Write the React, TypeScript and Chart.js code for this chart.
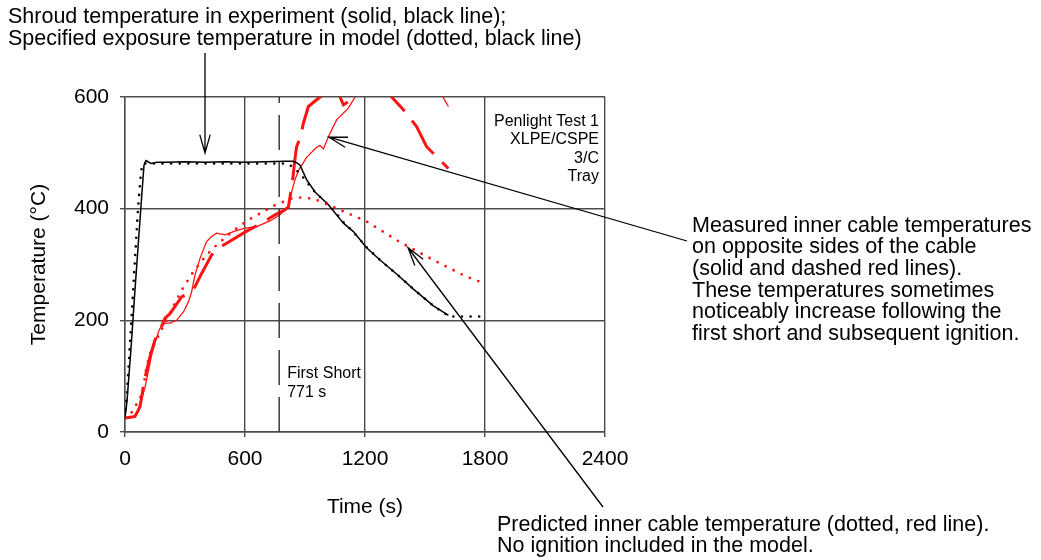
import React, { useEffect, useRef } from "react";
import { Chart, registerables } from "chart.js";

Chart.register(...registerables);

const FONT = '"Liberation Sans", Arial, Helvetica, sans-serif';

// ---- axis ticks ----
const xTicks = [0, 600, 1200, 1800, 2400];
const yTicks = [0, 200, 400, 600];

// ---- shroud temperature in experiment (solid black) ----
const shroudExpTime = [0, 10, 30, 50, 70, 85, 95, 105, 115, 130, 160, 200, 300, 400, 500, 600, 700, 800, 840, 860, 875, 908, 950, 1017, 1092, 1142, 1208, 1275, 1358, 1442, 1542, 1600, 1617];
const shroudExpTemp = [25, 55, 150, 255, 355, 430, 478, 486, 484, 481, 483, 483, 484, 483, 484, 483, 484, 485, 485, 482, 478, 452, 430, 407, 374, 359, 330, 308, 283, 256, 226, 213, 209];

// ---- specified exposure temperature in model (dotted black) ----
const shroudModelTime = [0, 10, 25, 45, 65, 80, 88, 100, 300, 500, 700, 810, 833, 875, 908, 942, 1000, 1042, 1092, 1142, 1208, 1275, 1358, 1442, 1542, 1600, 1620, 1800];
const shroudModelTemp = [25, 70, 160, 280, 400, 465, 481, 481, 481, 481, 481, 481, 476, 463, 448, 433, 412, 398, 376, 358, 331, 308, 283, 256, 226, 212, 207, 207];

// ---- predicted inner cable temperature (dotted red) ----
const predictedTime = [0, 25, 50, 75, 92, 108, 125, 150, 183, 225, 283, 342, 408, 450, 533, 617, 700, 742, 783, 830, 870, 942, 1042, 1208, 1375, 1542, 1708, 1800];
const predictedTemp = [25, 30, 45, 60, 81, 117, 140, 160, 183, 213, 254, 287, 317, 332, 358, 380, 396, 405, 411, 418, 420, 418, 403, 377, 340, 308, 278, 266];

// ---- measured inner cable temperature, side A (thin solid red) ----
const sideATime = [0, 40, 60, 80, 100, 120, 133, 150, 170, 185, 205, 225, 258, 292, 317, 333, 350, 375, 408, 433, 458, 500, 542, 600, 658, 725, 775, 817, 833, 850, 870, 908, 958, 975, 992, 1017, 1058, 1117, 1150, 1250, 1400, 1530, 1583, 1617];
const sideATemp = [24, 26, 35, 55, 80, 115, 138, 160, 182, 192, 195, 195, 200, 215, 233, 251, 281, 311, 341, 350, 356, 353, 359, 365, 368, 378, 389, 403, 430, 452, 470, 492, 510, 513, 507, 529, 559, 580, 600, 660, 700, 650, 604, 583];

// ---- measured inner cable temperature, side B (thick dashed red) ----
const sideBTime = [0, 50, 75, 92, 105, 125, 150, 183, 200, 225, 283, 300, 330, 350, 383, 433, 460, 508, 600, 683, 750, 800, 817, 825, 838, 850, 858, 875, 892, 917, 958, 992, 1030, 1060, 1075, 1092, 1117, 1150, 1250, 1300, 1333, 1392, 1458, 1508, 1617];
const sideBTemp = [25, 28, 45, 81, 105, 135, 165, 189, 204, 212, 242, 245, 250, 260, 284, 317, 328, 338, 358, 374, 389, 398, 403, 421, 451, 490, 511, 526, 553, 583, 595, 604, 630, 612, 600, 586, 592, 604, 660, 630, 600, 577, 547, 511, 472];

// ---- first short marker ----
const firstShortTime = 771;
const firstShortSpan = [0, 600];

// ---- texts ----
const topNote = [
  "Shroud temperature in experiment (solid, black line);",
  "Specified exposure temperature in model (dotted, black line)",
];
const rightNote = [
  "Measured inner cable temperatures",
  "on opposite sides of the cable",
  "(solid and dashed red lines).",
  "These temperatures sometimes",
  "noticeably increase following the",
  "first short and subsequent ignition.",
];
const bottomNote = [
  "Predicted inner cable temperature (dotted, red line).",
  "No ignition included in the model.",
];
const testLabel = ["Penlight Test 1", "XLPE/CSPE", "3/C", "Tray"];
const shortLabel = ["First Short", "771 s"];

// arrow targets (data coordinates the arrows point at)
const shroudArrowTarget = { x: 400, y: 500 };
const measuredArrowTarget = { x: 1020, y: 528 };
const predictedArrowTarget = { x: 1415, y: 330 };

const RED = "rgb(255,18,18)";
const GRID = "#4c4c4c";

function pts(t: number[], v: number[]) {
  return t.map((x, i) => ({ x, y: v[i] }));
}

function arrow(ctx: CanvasRenderingContext2D, x0: number, y0: number, x1: number, y1: number) {
  const ang = Math.atan2(y0 - y1, x0 - x1);
  const len = 19;
  const spread = (16 * Math.PI) / 180;
  ctx.beginPath();
  ctx.moveTo(x0, y0);
  ctx.lineTo(x1, y1);
  ctx.moveTo(x1 + len * Math.cos(ang - spread), y1 + len * Math.sin(ang - spread));
  ctx.lineTo(x1, y1);
  ctx.lineTo(x1 + len * Math.cos(ang + spread), y1 + len * Math.sin(ang + spread));
  ctx.stroke();
}

const annotations = {
  id: "annotations",
  afterDraw(chart: any) {
    const ctx: CanvasRenderingContext2D = chart.ctx;
    const sx = chart.scales.x;
    const sy = chart.scales.y;
    ctx.save();
    ctx.fillStyle = "#000";
    ctx.textBaseline = "alphabetic";
    ctx.textAlign = "left";
    ctx.font = `21.5px ${FONT}`;
    topNote.forEach((s, i) => ctx.fillText(s, 8, 23 + i * 21.5));
    rightNote.forEach((s, i) => ctx.fillText(s, 692, 231.5 + i * 21.7));
    bottomNote.forEach((s, i) => ctx.fillText(s, 497, 531 + i * 21));

    ctx.font = `16px ${FONT}`;
    ctx.textAlign = "right";
    testLabel.forEach((s, i) => ctx.fillText(s, sx.right - 6, sy.top + 29 + i * 18.4));
    ctx.textAlign = "left";
    const xs = sx.getPixelForValue(firstShortTime);
    shortLabel.forEach((s, i) => ctx.fillText(s, xs + 8, 378 + i * 18.7));

    ctx.strokeStyle = "#000";
    ctx.lineWidth = 1.3;
    const t1x = sx.getPixelForValue(shroudArrowTarget.x);
    const t1y = sy.getPixelForValue(shroudArrowTarget.y);
    arrow(ctx, t1x, 53, t1x, t1y);
    arrow(ctx, 687, 241, sx.getPixelForValue(measuredArrowTarget.x), sy.getPixelForValue(measuredArrowTarget.y));
    arrow(ctx, 603, 507, sx.getPixelForValue(predictedArrowTarget.x), sy.getPixelForValue(predictedArrowTarget.y));
    ctx.restore();
  },
};

export default function App() {
  const ref = useRef<HTMLCanvasElement | null>(null);

  useEffect(() => {
    if (!ref.current) return;
    const tickFont = { family: FONT, size: 21 };
    const chart = new Chart(ref.current, {
      type: "line",
      data: {
        datasets: [
          {
            label: "First short",
            data: pts([firstShortTime, firstShortTime], firstShortSpan),
            borderColor: "#3a3a3a",
            borderWidth: 1.5,
            borderDash: [35, 12],
            pointRadius: 0,
          },
          {
            label: "Predicted cable",
            data: pts(predictedTime, predictedTemp),
            borderColor: RED,
            borderWidth: 2.8,
            borderDash: [0, 9],
            borderCapStyle: "round",
            pointRadius: 0,
          },
          {
            label: "Model exposure",
            data: pts(shroudModelTime, shroudModelTemp),
            borderColor: "#000",
            borderWidth: 2.6,
            borderDash: [0, 8.6],
            borderCapStyle: "round",
            pointRadius: 0,
          },
          {
            label: "Shroud experiment",
            data: pts(shroudExpTime, shroudExpTemp),
            borderColor: "#000",
            borderWidth: 1.5,
            pointRadius: 0,
          },
          {
            label: "Cable side B",
            data: pts(sideBTime, sideBTemp),
            borderColor: RED,
            borderWidth: 3,
            borderDash: [40, 12],
            pointRadius: 0,
          },
          {
            label: "Cable side A",
            data: pts(sideATime, sideATemp),
            borderColor: RED,
            borderWidth: 1.3,
            pointRadius: 0,
          },
        ],
      },
      options: {
        animation: false,
        responsive: false,
        devicePixelRatio: 1,
        parsing: false as any,
        layout: { padding: { left: 26.4, right: 436, top: 97, bottom: 40.4 } },
        plugins: { legend: { display: false }, tooltip: { enabled: false } },
        elements: { line: { tension: 0 } },
        scales: {
          x: {
            type: "linear",
            min: 0,
            max: 2400,
            afterBuildTicks: (s: any) => {
              s.ticks = xTicks.map((v) => ({ value: v }));
            },
            afterFit: (s: any) => {
              s.height = 560 - 432 - 40.4;
            },
            ticks: {
              font: tickFont,
              color: "#000",
              padding: 10,
              maxRotation: 0,
              autoSkip: false,
              callback: (v: any) => String(v),
            },
            grid: { color: GRID, lineWidth: 1.4, tickLength: 5, tickColor: GRID, drawTicks: true },
            border: { color: GRID, width: 1.4 },
            title: { display: true, text: "Time (s)", font: tickFont, color: "#000", padding: { top: 0, bottom: 0 } },
          },
          y: {
            type: "linear",
            min: 0,
            max: 600,
            afterBuildTicks: (s: any) => {
              s.ticks = yTicks.map((v) => ({ value: v }));
            },
            afterFit: (s: any) => {
              s.width = 125 - 26.4;
            },
            ticks: { font: tickFont, color: "#000", padding: 11, autoSkip: false, callback: (v: any) => String(v) },
            grid: { color: GRID, lineWidth: 1.4, tickLength: 5, tickColor: GRID, drawTicks: true },
            border: { color: GRID, width: 1.4 },
            title: { display: true, text: "Temperature (°C)", font: tickFont, color: "#000", padding: { top: 0, bottom: 0 } },
          },
        },
      },
      plugins: [annotations],
    } as any);
    return () => chart.destroy();
  }, []);

  return (
    <div style={{ position: "fixed", left: 0, top: 0, width: 1041, height: 560, background: "#fff" }}>
      <canvas ref={ref} width={1041} height={560} style={{ display: "block", width: 1041, height: 560 }} />
    </div>
  );
}
